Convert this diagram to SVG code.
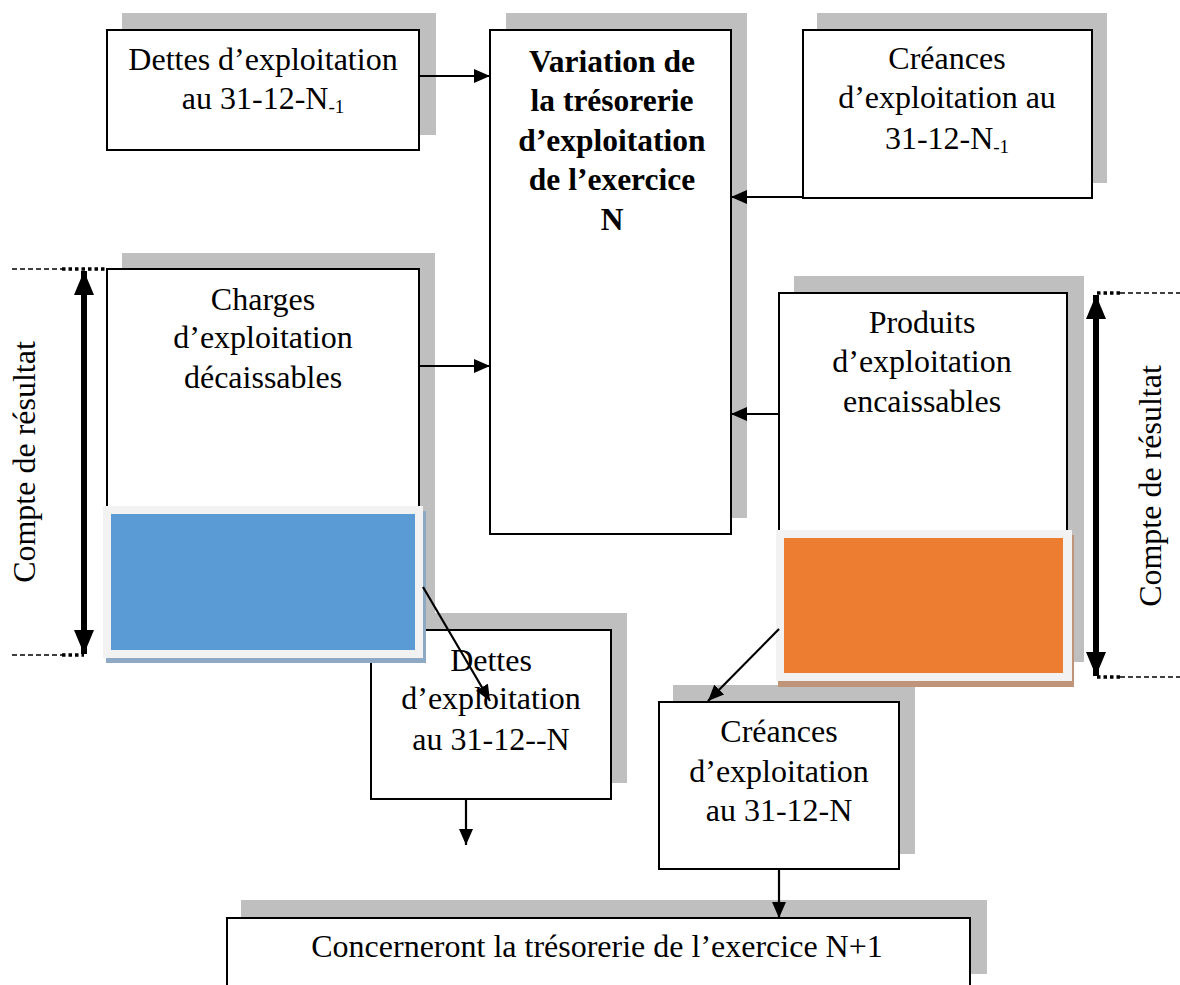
<svg xmlns="http://www.w3.org/2000/svg" width="1180" height="985" viewBox="0 0 1180 985">
<style>
  .sh { fill: #bfbfbf; }
  .box { fill: #ffffff; stroke: #000000; stroke-width: 2; }
  .t { font-family: "Liberation Serif", "Times New Roman", serif; font-size: 32px; fill: #000000; text-anchor: middle; }
  .b { font-weight: bold; font-size: 31.5px; }
  .sub { font-size: 19px; }
  .ln { stroke: #000000; stroke-width: 2.2; fill: none; }
  .dbl { stroke: #000000; stroke-width: 6; fill: none; }
  .thin { stroke: #000000; stroke-width: 1.3; stroke-dasharray: 5 3; fill: none; }
  .dots { stroke: #000000; stroke-width: 3.5; stroke-dasharray: 3.5 3; fill: none; }
  .frame { fill: #f2f2f2; }
</style>
<defs>
  <marker id="ah" markerUnits="userSpaceOnUse" markerWidth="16" markerHeight="14" refX="16" refY="7" orient="auto">
    <path d="M0,0 L16,7 L0,14 z" fill="#000000"/>
  </marker>
  <marker id="big" markerUnits="userSpaceOnUse" markerWidth="24" markerHeight="20" refX="24" refY="10" orient="auto-start-reverse">
    <path d="M0,0 L24,10 L0,20 z" fill="#000000"/>
  </marker>
</defs>

<g id="dettes-n1">
  <rect class="sh" x="122" y="13" width="314" height="122"/>
  <rect class="box" x="107" y="30" width="312" height="120"/>
  <text class="t" x="263" y="70">Dettes d’exploitation</text>
  <text class="t" x="263" y="109">au 31-12-N<tspan class="sub" dy="4">-1</tspan></text>
</g>

<g id="variation">
  <rect class="sh" x="506" y="13" width="241" height="505"/>
  <rect class="box" x="490" y="30" width="241" height="504"/>
  <text class="t b" x="612" y="72">Variation de</text>
  <text class="t b" x="612" y="111">la trésorerie</text>
  <text class="t b" x="612" y="151">d’exploitation</text>
  <text class="t b" x="612" y="190">de l’exercice</text>
  <text class="t b" x="612" y="230">N</text>
</g>

<g id="creances-n1">
  <rect class="sh" x="817" y="13" width="290" height="170"/>
  <rect class="box" x="803" y="30" width="289" height="168"/>
  <text class="t" x="947" y="69">Créances</text>
  <text class="t" x="947" y="108">d’exploitation au</text>
  <text class="t" x="947" y="149">31-12-N<tspan class="sub" dy="4">-1</tspan></text>
</g>

<g id="charges">
  <rect class="sh" x="122" y="253" width="313" height="377"/>
  <rect class="box" x="107" y="269" width="312" height="375"/>
  <text class="t" x="263" y="310">Charges</text>
  <text class="t" x="263" y="348">d’exploitation</text>
  <text class="t" x="263" y="388">décaissables</text>
</g>

<g id="produits">
  <rect class="sh" x="794" y="276" width="290" height="386"/>
  <rect class="box" x="779" y="293" width="288" height="385"/>
  <text class="t" x="922" y="333">Produits</text>
  <text class="t" x="922" y="372">d’exploitation</text>
  <text class="t" x="922" y="412">encaissables</text>
</g>

<g id="dettes-n">
  <rect class="sh" x="387" y="613" width="240" height="170"/>
  <rect class="box" x="371" y="630" width="240" height="169"/>
  <text class="t" x="491" y="671">Dettes</text>
  <text class="t" x="491" y="709">d’exploitation</text>
  <text class="t" x="491" y="750">au 31-12--N</text>
</g>

<g id="creances-n">
  <rect class="sh" x="673" y="685" width="242" height="169"/>
  <rect class="box" x="659" y="702" width="240" height="167"/>
  <text class="t" x="779" y="742">Créances</text>
  <text class="t" x="779" y="782">d’exploitation</text>
  <text class="t" x="779" y="821">au 31-12-N</text>
</g>

<g id="blue-block">
  <rect x="106" y="511" width="320" height="152" fill="#8ea9c4"/>
  <rect class="frame" x="103" y="506" width="320" height="152"/>
  <rect x="111" y="514" width="304" height="136" fill="#5b9bd5"/>
</g>

<g id="orange-block">
  <rect x="778" y="535" width="296" height="152" fill="#bf9479"/>
  <rect class="frame" x="776" y="530" width="296" height="151"/>
  <rect x="784" y="538" width="279" height="135" fill="#ed7d31"/>
</g>

<g id="concerneront">
  <rect class="sh" x="241" y="900" width="746" height="74"/>
  <rect class="box" x="227" y="918" width="743" height="90"/>
  <text class="t" x="597" y="957">Concerneront la trésorerie de l’exercice N+1</text>
</g>

<g id="compte-left">
  <line class="thin" x1="12" y1="269" x2="62" y2="269"/>
  <line class="dots" x1="62" y1="269" x2="107" y2="269"/>
  <line class="thin" x1="12" y1="655" x2="62" y2="655"/>
  <line class="dots" x1="62" y1="655" x2="84" y2="655"/>
  <text class="t" transform="translate(35,462) rotate(-90)" x="0" y="0">Compte de résultat</text>
</g>

<g id="compte-right">
  <line class="dots" x1="1097" y1="293" x2="1120" y2="293"/>
  <line class="thin" x1="1120" y1="293" x2="1180" y2="293"/>
  <line class="dots" x1="1097" y1="677" x2="1120" y2="677"/>
  <line class="thin" x1="1120" y1="677" x2="1180" y2="677"/>
  <text class="t" transform="translate(1161,486) rotate(-90)" x="0" y="0">Compte de résultat</text>
</g>

<g id="connectors">
  <line class="ln" x1="419" y1="76" x2="490" y2="76" marker-end="url(#ah)"/>
  <line class="ln" x1="803" y1="197" x2="731" y2="197" marker-end="url(#ah)"/>
  <line class="ln" x1="419" y1="366" x2="490" y2="366" marker-end="url(#ah)"/>
  <line class="ln" x1="779" y1="414" x2="731" y2="414" marker-end="url(#ah)"/>
  <line class="ln" x1="423" y1="587" x2="490" y2="701" marker-end="url(#ah)"/>
  <line class="ln" x1="779" y1="629" x2="708" y2="701" marker-end="url(#ah)"/>
  <line class="ln" x1="466" y1="799" x2="466" y2="845" marker-end="url(#ah)"/>
  <line class="ln" x1="779" y1="869" x2="779" y2="918" marker-end="url(#ah)"/>
  <line class="dbl" x1="84" y1="271" x2="84" y2="654" marker-start="url(#big)" marker-end="url(#big)"/>
  <line class="dbl" x1="1096" y1="295" x2="1096" y2="676" marker-start="url(#big)" marker-end="url(#big)"/>
</g>
</svg>
